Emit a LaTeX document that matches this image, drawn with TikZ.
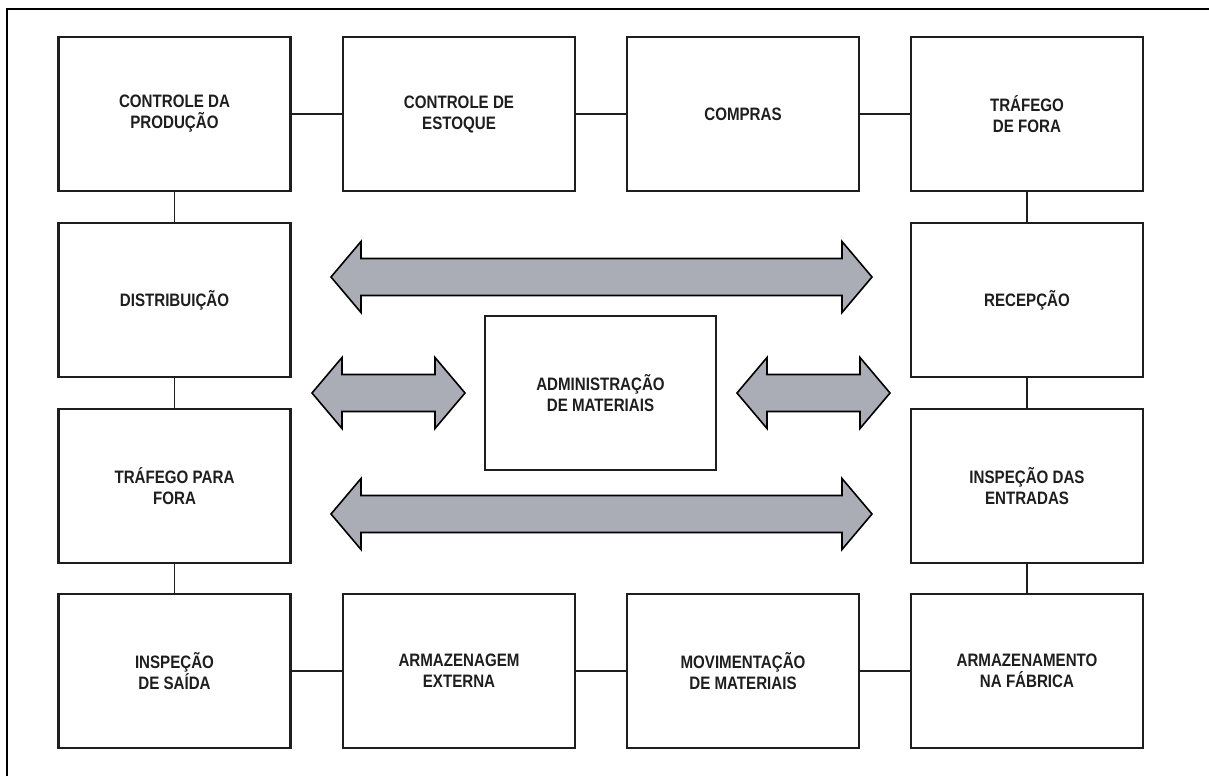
\documentclass[tikz,border=0pt]{standalone}
\usepackage{fontspec}
\newfontfamily\lblfont[FakeStretch=0.84]{Liberation Sans}
\definecolor{arrowfill}{RGB}{170,172,182}
\definecolor{ink}{RGB}{30,30,30}

% horizontal double-headed block arrow: #1 = left tip x, #2 = right tip x, #3 = centre y
\newcommand\dblarrow[3]{%
  \filldraw[blockarrow]
    (#1,#3) -- ++(30,-35.5) -- ++(0,17) -- (#2-30,#3-18.5) -- ++(0,-17)
    -- (#2,#3) -- ++(-30,35.5) -- ++(0,-17) -- (#1+30,#3+18.5) -- ++(0,17) -- cycle;}

\begin{document}
\begin{tikzpicture}[x=1pt,y=-1pt,
  box/.style={draw=ink, line width=2.1pt, fill=white, minimum width=232pt,
    minimum height=154pt, inner sep=0pt, align=center, text=ink,
    font=\lblfont\bfseries\fontsize{18}{21}\selectfont},
  link/.style={draw=ink, line width=1.7pt},
  blockarrow/.style={fill=arrowfill, draw=black, line width=1.6pt, line join=miter},
  frameline/.style={draw=black, line width=2.4pt}]
\useasboundingbox (0,0) rectangle (1209,776);

% outer frame (left and top edges)
\coordinate (fa) at (7,776);
\coordinate (fb) at (7,9);
\coordinate (fc) at (1209,9);
\draw[frameline] (fa) -- (fb) -- (fc);

% top row
\node[box] (cp) at (174.5,114) {CONTROLE DA\\PRODUÇÃO};
\node[box] (ce) at (459,114) {CONTROLE DE\\ESTOQUE};
\node[box] (co) at (743,114) {COMPRAS};
\node[box] (tf) at (1027,114) {TRÁFEGO\\DE FORA};

% side columns
\node[box] (di) at (174.5,300) {DISTRIBUIÇÃO};
\node[box] (tp) at (174.5,486) {TRÁFEGO PARA\\FORA};
\node[box] (re) at (1027,300) {RECEPÇÃO};
\node[box] (ie) at (1027,486) {INSPEÇÃO DAS\\ENTRADAS};

% bottom row
\node[box] (is) at (174.5,671) {INSPEÇÃO\\DE SAÍDA};
\node[box] (ae) at (459,671) {ARMAZENAGEM\\EXTERNA};
\node[box] (mm) at (743,671) {MOVIMENTAÇÃO\\DE MATERIAIS};
\node[box] (af) at (1027,671) {ARMAZENAMENTO\\NA FÁBRICA};

% centre
\node[box, minimum width=231pt] (am) at (600.5,393) {ADMINISTRAÇÃO\\DE MATERIAIS};

% connectors around the ring
\draw[link] (cp) -- (ce);
\draw[link] (ce) -- (co);
\draw[link] (co) -- (tf);
\draw[link] (tf) -- (re);
\draw[link] (re) -- (ie);
\draw[link] (ie) -- (af);
\draw[link] (af) -- (mm);
\draw[link] (mm) -- (ae);
\draw[link] (ae) -- (is);
\draw[link] (is) -- (tp);
\draw[link] (tp) -- (di);
\draw[link] (di) -- (cp);

% block arrows
\dblarrow{331}{872}{277}
\dblarrow{331}{872}{514}
\dblarrow{312}{465}{393}
\dblarrow{737}{890}{393}
\end{tikzpicture}
\end{document}
